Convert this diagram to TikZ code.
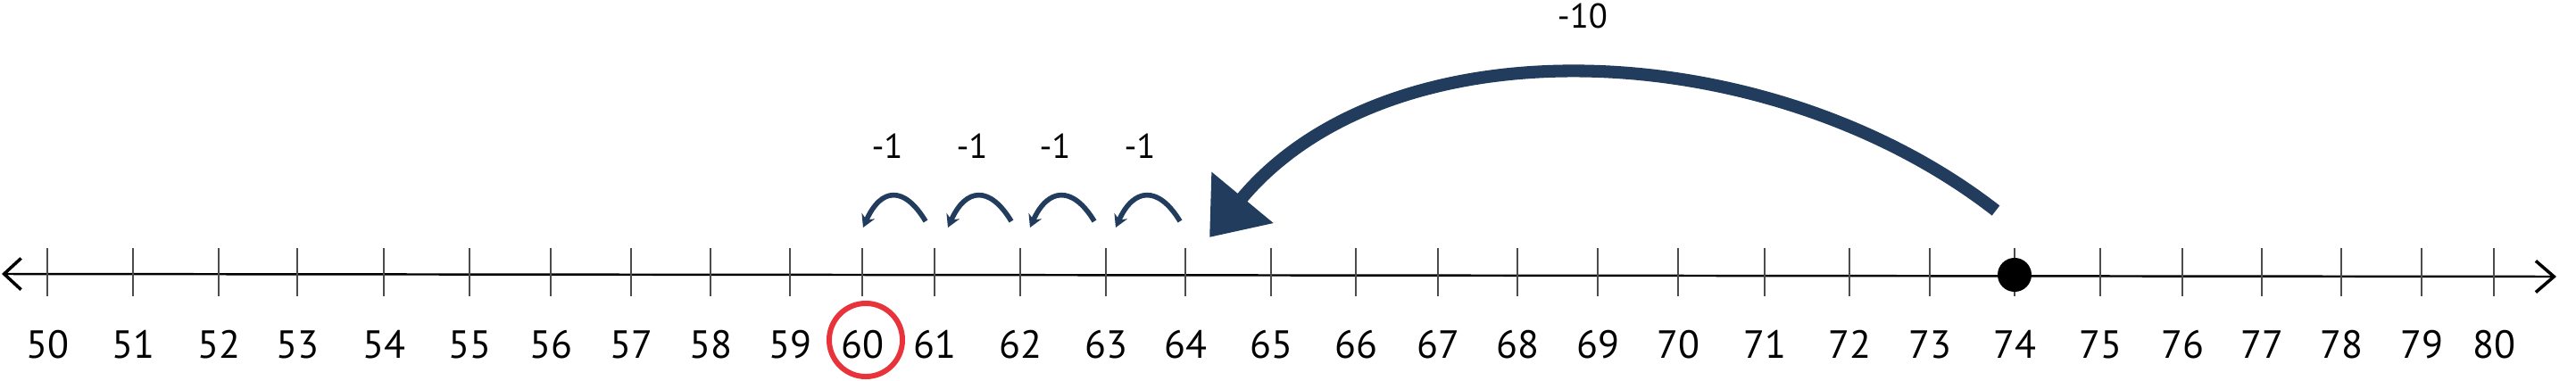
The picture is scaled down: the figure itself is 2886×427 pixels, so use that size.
\documentclass[tikz,border=0pt]{standalone}
\usepackage{fontspec}
\setmainfont{PT Sans}
\usetikzlibrary{arrows.meta}
\definecolor{navy}{RGB}{34,60,94}
\definecolor{ringred}{RGB}{232,51,58}

\begin{document}
\begin{tikzpicture}
  [x=0.01cm,y=-0.01cm,
   every node/.style={font=\fontsize{12.5}{14}\selectfont},
   tick/.style={draw=black!70,line width=0.45pt},
   axis/.style={line width=0.7pt,arrows={Straight Barb[length=5.4pt,width=10pt,line width=1pt]-Straight Barb[length=5.8pt,width=10pt,line width=1pt]}},
   hop/.style={navy,line width=1.6pt,-{Stealth[length=4pt,width=4.5pt]}},
   jump/.style={navy,line width=4pt,-{Triangle[length=16.5pt,width=24.5pt]}},
   hoplabel/.style={font=\fontsize{11}{13}\selectfont},
   dot/.style={circle,fill=black,minimum size=0.38cm,inner sep=0pt},
   ring/.style={circle,draw=ringred,line width=1.7pt,minimum size=0.82cm,inner sep=0pt}]
  \useasboundingbox (0,0) rectangle (2886,427);

  % number line
  \coordinate (lend) at (2,307);
  \coordinate (rend) at (2864,310);
  \draw[axis] (lend) -- (rend);

  \foreach \n/\x in {50/53,51/149,52/245,53/333,54/430,55/526,56/617,57/707,
                     58/796,59/885,60/966,61/1047,62/1143,63/1239,64/1328,65/1424,
                     66/1519,67/1611,68/1700,69/1790,70/1880,71/1977,72/2072,73/2162,
                     74/2257,75/2353,76/2445,77/2534,78/2623,79/2713,80/2794} {
    \draw[tick] (\x,278) -- (\x,332);
    \node (n\n) at (\x,386) {\n};
  }

  \node[ring] (r60) at (970,381) {};
  \node[dot] (p74) at (2257,308) {};

  % the -10 jump
  \coordinate (j0) at (2236,236);
  \coordinate (j1) at (1355,266);
  \draw[jump] (j0) .. controls +(-252.5,-196.5) and +(204.2,-246.4) .. (j1);
  \node[hoplabel] (m10) at (1773,18) {-10};

  % the -1 hops
  \foreach \i/\xs/\xe/\xl in {1/1037/967/994,2/1133/1062/1089,3/1226/1154/1182,4/1322/1250/1277} {
    \coordinate (h\i s) at (\xs,248);
    \coordinate (h\i e) at (\xe,255);
    \draw[hop] (h\i s) .. controls +(-24,-40) and +(20,-45) .. (h\i e);
    \node[hoplabel] (m\i) at (\xl,164) {-1};
  }
\end{tikzpicture}
\end{document}
